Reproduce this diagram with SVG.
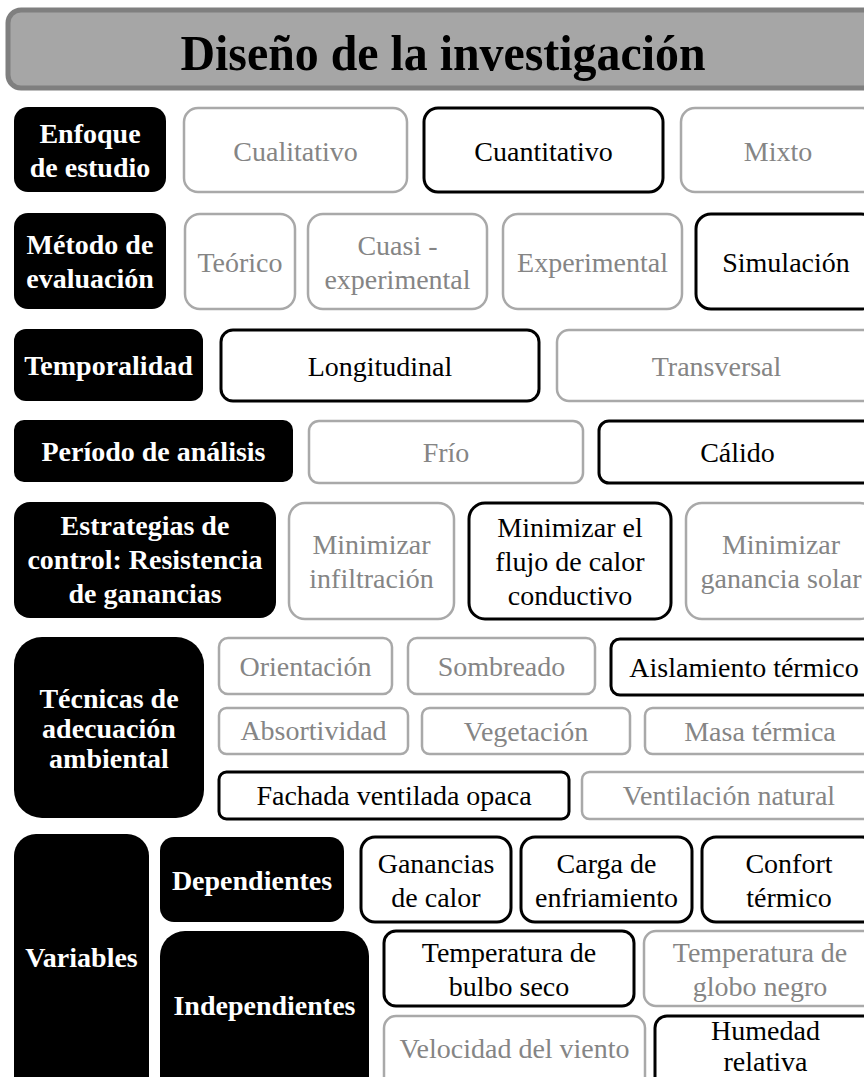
<svg xmlns="http://www.w3.org/2000/svg" width="864" height="1077" viewBox="0 0 864 1077">
<style>
text{font-family:"Liberation Serif","Times New Roman",serif;text-anchor:middle}
.lab rect{fill:#000;stroke:none}
.lab text{fill:#fff;font-weight:bold;font-size:28px}
.on rect{fill:#fff;stroke:#000;stroke-width:3}
.on text{fill:#000;font-size:28px}
.off rect{fill:#fff;stroke:#a9a9a9;stroke-width:2.5}
.off text{fill:#858585;font-size:28px}
</style>
<rect width="864" height="1077" fill="#fff"/>
<g id="title">
<rect x="8" y="10" width="870" height="78" rx="13" fill="#a6a6a6" stroke="#7f7f7f" stroke-width="5"/>
<text x="443" y="70" font-weight="bold" font-size="50" textLength="525" lengthAdjust="spacingAndGlyphs">Diseño de la investigación</text>
</g>
<g id="connectors"></g>
<!-- Row 1 -->
<g id="enfoque" class="lab"><rect x="14" y="107" width="152" height="85" rx="14"/><text x="90" y="143">Enfoque</text><text x="90" y="177">de estudio</text></g>
<g id="cualitativo" class="off"><rect x="184" y="108" width="223" height="84" rx="14"/><text x="295.5" y="161">Cualitativo</text></g>
<g id="cuantitativo" class="on"><rect x="424" y="108" width="239" height="84" rx="14"/><text x="543.5" y="161">Cuantitativo</text></g>
<g id="mixto" class="off"><rect x="681" y="108" width="195" height="84" rx="14"/><text x="778" y="161">Mixto</text></g>
<!-- Row 2 -->
<g id="metodo" class="lab"><rect x="14" y="213" width="152" height="96" rx="14"/><text x="90" y="254">Método de</text><text x="90" y="288">evaluación</text></g>
<g id="teorico" class="off"><rect x="185" y="214" width="110" height="95" rx="15"/><text x="240" y="272">Teórico</text></g>
<g id="cuasi" class="off"><rect x="308" y="214" width="179" height="95" rx="15"/><text x="397.5" y="255">Cuasi -</text><text x="397.5" y="289">experimental</text></g>
<g id="experimental" class="off"><rect x="503" y="214" width="179" height="95" rx="15"/><text x="592.5" y="272">Experimental</text></g>
<g id="simulacion" class="on"><rect x="696" y="214" width="180" height="95" rx="15"/><text x="786" y="272">Simulación</text></g>
<!-- Row 3 -->
<g id="temporalidad" class="lab"><rect x="14" y="329" width="189" height="72" rx="12"/><text x="108.5" y="375">Temporalidad</text></g>
<g id="longitudinal" class="on"><rect x="221" y="330" width="318" height="71" rx="12"/><text x="380" y="376">Longitudinal</text></g>
<g id="transversal" class="off"><rect x="557" y="330" width="319" height="71" rx="12"/><text x="716.5" y="376">Transversal</text></g>
<!-- Row 4 -->
<g id="periodo" class="lab"><rect x="14" y="420" width="279" height="62" rx="10"/><text x="153.5" y="461">Período de análisis</text></g>
<g id="frio" class="off"><rect x="309" y="421" width="274" height="62" rx="10"/><text x="446" y="462">Frío</text></g>
<g id="calido" class="on"><rect x="599" y="421" width="277" height="62" rx="10"/><text x="737.5" y="462">Cálido</text></g>
<!-- Row 5 -->
<g id="estrategias" class="lab"><rect x="14" y="502" width="262" height="116" rx="16"/><text x="145" y="535">Estrategias de</text><text x="145" y="569">control: Resistencia</text><text x="145" y="603">de ganancias</text></g>
<g id="infiltracion" class="off"><rect x="289" y="503" width="165" height="116" rx="16"/><text x="371.5" y="554">Minimizar</text><text x="371.5" y="588">infiltración</text></g>
<g id="flujo" class="on"><rect x="469" y="503" width="202" height="116" rx="16"/><text x="570" y="537">Minimizar el</text><text x="570" y="571">flujo de calor</text><text x="570" y="605">conductivo</text></g>
<g id="solar" class="off"><rect x="686" y="503" width="190" height="116" rx="16"/><text x="781" y="554">Minimizar</text><text x="781" y="588">ganancia solar</text></g>
<!-- Row 6 -->
<g id="tecnicas" class="lab"><rect x="14" y="637" width="190" height="181" rx="28"/><text x="109" y="708">Técnicas de</text><text x="109" y="738">adecuación</text><text x="109" y="768">ambiental</text></g>
<g id="orientacion" class="off"><rect x="219" y="638" width="173" height="56" rx="9"/><text x="305.5" y="676">Orientación</text></g>
<g id="sombreado" class="off"><rect x="408" y="638" width="187" height="56" rx="9"/><text x="501.5" y="676">Sombreado</text></g>
<g id="aislamiento" class="on"><rect x="611" y="639" width="265" height="56" rx="9"/><text x="744" y="677">Aislamiento térmico</text></g>
<g id="absortividad" class="off"><rect x="219" y="708" width="189" height="46" rx="7.5"/><text x="313.5" y="740">Absortividad</text></g>
<g id="vegetacion" class="off"><rect x="422" y="708" width="208" height="46" rx="7.5"/><text x="526" y="741">Vegetación</text></g>
<g id="masa" class="off"><rect x="645" y="708" width="231" height="46" rx="7.5"/><text x="760" y="741">Masa térmica</text></g>
<g id="fachada" class="on"><rect x="219" y="772" width="350" height="47" rx="7.5"/><text x="394" y="805">Fachada ventilada opaca</text></g>
<g id="ventilacion" class="off"><rect x="582" y="772" width="294" height="47" rx="7.5"/><text x="729" y="805">Ventilación natural</text></g>
<!-- Row 7 -->
<g id="variables" class="lab"><rect x="14" y="834" width="135" height="270" rx="22"/><text x="81.5" y="967">Variables</text></g>
<g id="dependientes" class="lab"><rect x="160" y="837" width="184" height="85" rx="14"/><text x="252" y="890">Dependientes</text></g>
<g id="independientes" class="lab"><rect x="160" y="931" width="209" height="170" rx="25"/><text x="264.5" y="1015">Independientes</text></g>
<g id="ganancias" class="on"><rect x="361" y="837" width="150" height="85" rx="14"/><text x="436" y="873">Ganancias</text><text x="436" y="907">de calor</text></g>
<g id="carga" class="on"><rect x="521" y="837" width="171" height="85" rx="14"/><text x="606.5" y="873">Carga de</text><text x="606.5" y="907">enfriamiento</text></g>
<g id="confort" class="on"><rect x="702" y="837" width="174" height="85" rx="14"/><text x="789" y="873">Confort</text><text x="789" y="907">térmico</text></g>
<g id="bulbo" class="on"><rect x="384" y="931" width="250" height="75" rx="12"/><text x="509" y="962">Temperatura de</text><text x="509" y="996">bulbo seco</text></g>
<g id="globo" class="off"><rect x="644" y="931" width="232" height="75" rx="12"/><text x="760" y="962">Temperatura de</text><text x="760" y="996">globo negro</text></g>
<g id="velocidad" class="off"><rect x="384" y="1016" width="261" height="80" rx="12"/><text x="514.5" y="1058">Velocidad del viento</text></g>
<g id="humedad" class="on"><rect x="655" y="1016" width="221" height="80" rx="12"/><text x="765.5" y="1040">Humedad</text><text x="765.5" y="1071">relativa</text></g>
</svg>
